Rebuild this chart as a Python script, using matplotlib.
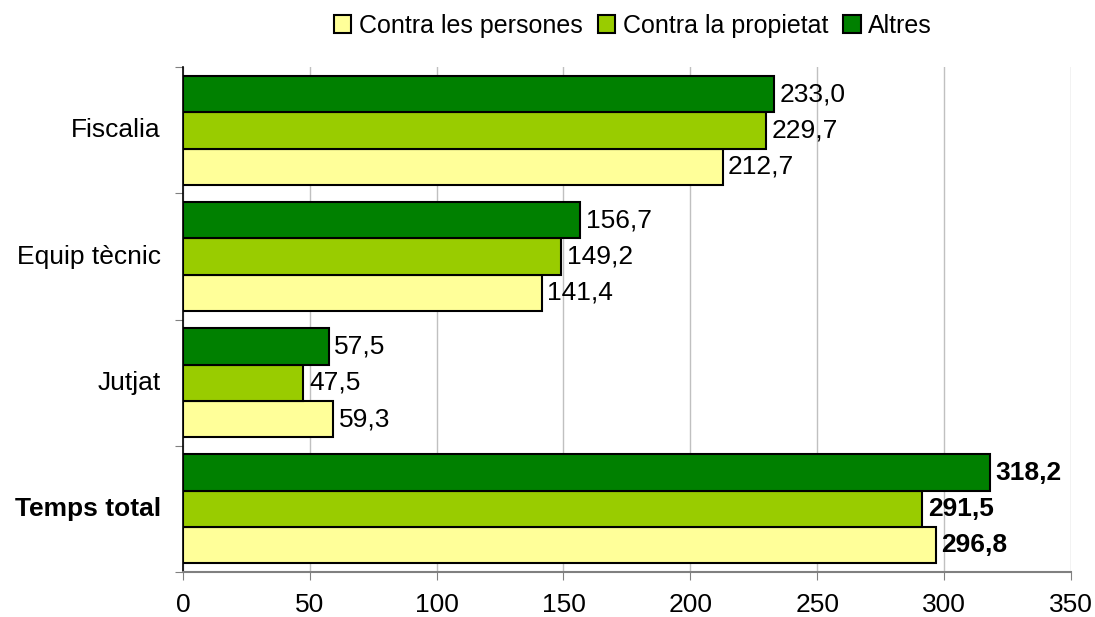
import matplotlib.pyplot as plt
import numpy as np

plt.rcParams['font.family'] = ['Liberation Sans', 'DejaVu Sans']

# Temps mitjà per fase i tipus de delicte
categories = ["Fiscalia", "Equip tècnic", "Jutjat", "Temps total"]
series_names = ["Contra les persones", "Contra la propietat", "Altres"]
persones = [212.7, 141.4, 59.3, 296.8]
propietat = [229.7, 149.2, 47.5, 291.5]
altres = [233.0, 156.7, 57.5, 318.2]
colors = ["#FFFF99", "#99CC00", "#008000"]
xticks = [0, 50, 100, 150, 200, 250, 300, 350]

fs = 19

fig = plt.figure(figsize=(10.95, 6.17), dpi=100)
ax = fig.add_axes([0.167, 0.073, 0.811, 0.818])

n = len(categories)
# first category at the top
ypos = np.arange(n)[::-1].astype(float)
h = 0.288
offsets = [-h, 0, h]

for vals, name, col, off in zip([persones, propietat, altres], series_names, colors, offsets):
    bars = ax.barh(ypos + off, vals, height=h, color=col, edgecolor="black",
                   linewidth=1.5, label=name, zorder=3)
    for i, (b, v) in enumerate(zip(bars, vals)):
        bold = categories[i] == "Temps total"
        ax.text(v + 2.2, b.get_y() + h / 2, f"{v:.1f}".replace(".", ","),
                va="center", ha="left", fontsize=fs,
                fontweight="bold" if bold else "normal", zorder=4)

ax.set_xlim(0, 350)
ax.set_ylim(-0.5, n - 0.5)
ax.set_xticks(xticks)
ax.set_xticklabels([str(t) for t in xticks], fontsize=fs)
ax.xaxis.grid(True, color="#C0C0C0", linewidth=1, zorder=0)
ax.tick_params(axis="x", length=6, color="#808080", pad=9)

# category labels between the boundary ticks
ax.set_yticks(np.arange(-0.5, n, 1.0))
ax.set_yticklabels([])
ax.tick_params(axis="y", length=6, color="#808080")
for y, cat in zip(ypos, categories):
    ax.text(-0.025, y, cat, transform=ax.get_yaxis_transform(), ha="right", va="center",
            fontsize=fs, fontweight="bold" if cat == "Temps total" else "normal")

ax.spines["top"].set_visible(False)
ax.spines["right"].set_visible(False)
ax.spines["left"].set_color("black")
ax.spines["left"].set_linewidth(1.2)
ax.spines["bottom"].set_color("#808080")
ax.spines["bottom"].set_linewidth(1.5)

handles, labels = ax.get_legend_handles_labels()
fig.legend(handles, labels, loc="center", bbox_to_anchor=(0.578, 0.958), ncol=3,
           frameon=False, fontsize=18, handlelength=0.7, handleheight=0.7,
           handletextpad=0.3, columnspacing=0.6)

plt.savefig("out.png", dpi=100)
